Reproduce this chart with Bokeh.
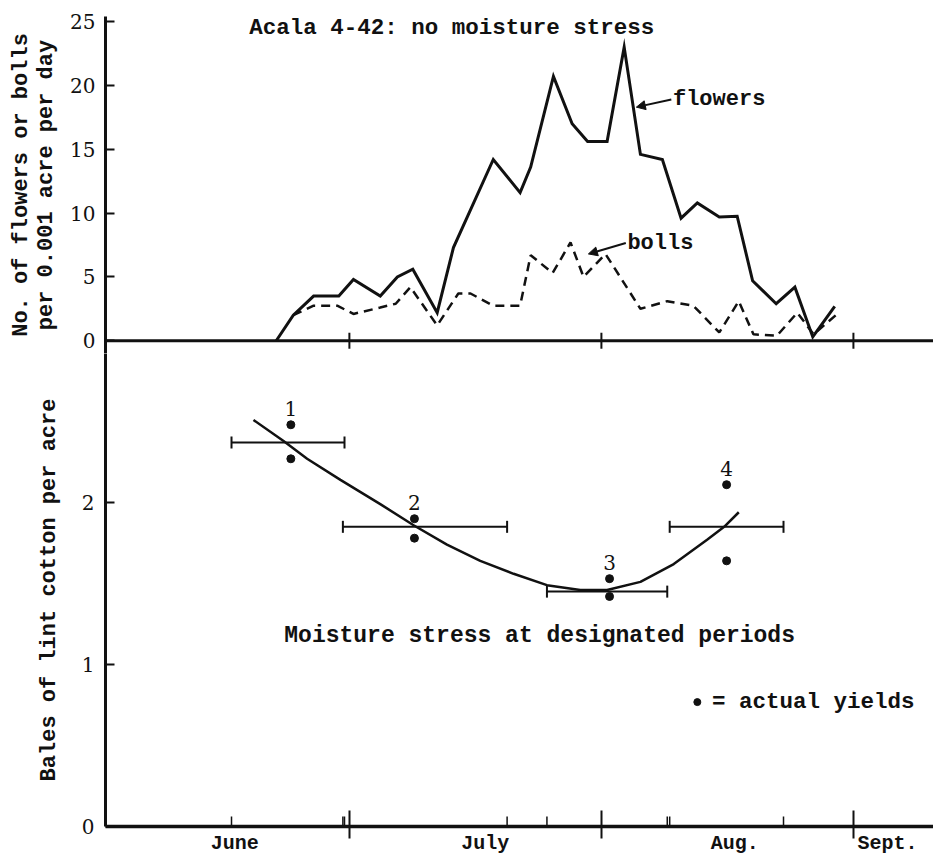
import math
from bokeh.plotting import figure
from bokeh.layouts import column
from bokeh.models import (ColumnDataSource, FixedTicker, Span, Whisker, TeeHead,
                          Arrow, NormalHead, Label)
from bokeh.embed import file_html
from bokeh.resources import INLINE

# ---------------- data (x = days after 31 May; day 0 = June 1) ----------------
flower_days = [21.0, 23.1, 25.6, 28.7, 30.5, 33.8, 35.9, 37.8, 40.8, 42.8, 47.7, 51.0,
               52.3, 55.1, 57.4, 59.3, 61.7, 63.8, 65.8, 68.5, 70.8, 72.8, 75.5, 77.7,
               79.6, 82.5, 84.8, 87.0, 89.7]
flowers = [0.0, 2.0, 3.5, 3.5, 4.8, 3.5, 5.0, 5.6, 2.2, 7.3, 14.2, 11.6,
           13.6, 20.7, 17.0, 15.6, 15.6, 23.0, 14.6, 14.2, 9.6, 10.8, 9.7, 9.75,
           4.7, 2.9, 4.2, 0.3, 2.7]

boll_days = [23.1, 25.6, 28.5, 30.5, 33.8, 35.7, 37.5, 40.8, 43.4, 44.9, 47.7, 51.0,
             52.3, 55.0, 57.2, 58.8, 61.5, 65.8, 69.1, 72.3, 75.5, 77.9, 79.7, 82.6,
             85.1, 87.1, 90.2]
bolls = [2.0, 2.75, 2.75, 2.1, 2.6, 2.9, 4.2, 1.2, 3.7, 3.7, 2.75, 2.75,
         6.7, 5.3, 7.7, 5.0, 6.8, 2.5, 3.1, 2.75, 0.65, 3.1, 0.5, 0.4,
         2.2, 0.5, 2.2]

flower_ticks = [0, 5, 10, 15, 20, 25]

periods = ["1", "2", "3", "4"]
period_start = [15.5, 29.2, 54.3, 69.4]
period_end = [29.4, 49.4, 69.1, 83.4]
period_yield = [2.37, 1.85, 1.45, 1.85]
yield_day = [22.8, 38.0, 62.0, 76.4]
yield_high = [2.48, 1.90, 1.53, 2.11]
yield_low = [2.27, 1.78, 1.42, 1.64]

curve_days = [18.2, 21.9, 24.8, 28.9, 33.8, 37.9, 42.0, 46.1, 50.2, 54.3, 58.4,
              61.7, 65.8, 69.9, 74.0, 76.1, 77.9]
curve_vals = [2.51, 2.38, 2.27, 2.14, 1.99, 1.86, 1.74, 1.64, 1.56, 1.49, 1.46,
              1.46, 1.51, 1.62, 1.77, 1.85, 1.94]

bale_ticks = [0, 1, 2]

month_bounds = [30, 61, 92]
month_label_pos = [15.9, 46.7, 77.4, 96.2]
month_labels = ["June", "July", "Aug.", "Sept."]

MONO = "Liberation Mono"
SERIF = "DejaVu Serif"
BLACK = "#111111"

# ---------------- top panel ----------------
top = figure(width=933, height=353, x_range=(0, 101.85), y_range=(-1.0, 25.4),
             output_backend="svg", toolbar_location=None, x_axis_location=None,
             min_border_left=105, min_border_right=0, min_border_top=16,
             min_border_bottom=0)
top.outline_line_color = None
top.grid.visible = False
ya = top.yaxis[0]
ya.ticker = FixedTicker(ticks=flower_ticks, minor_ticks=[])
ya.axis_line_width = 3
ya.axis_line_color = BLACK
ya.major_tick_in = 9
ya.major_tick_out = 0
ya.major_tick_line_width = 2
ya.major_tick_line_color = BLACK
ya.major_label_standoff = 10
ya.major_label_text_font = SERIF
ya.major_label_text_font_size = "20px"
ya.major_label_text_color = BLACK
ya.axis_label = "No. of flowers or bolls\nper 0.001 acre per day"
ya.axis_label_standoff = 8
ya.axis_label_text_font = MONO
ya.axis_label_text_font_style = "bold"
ya.axis_label_text_font_size = "22px"
ya.axis_label_text_line_height = 1.0
ya.axis_label_text_color = BLACK

top.add_layout(Span(location=0, dimension="width", line_color=BLACK, line_width=3))
top.scatter(month_bounds, [0] * len(month_bounds), marker="dash", angle=math.pi / 2,
            size=16, line_color=BLACK, line_width=2)

top.line(flower_days, flowers, line_color=BLACK, line_width=3, line_join="miter")
top.line(boll_days, bolls, line_color=BLACK, line_width=2.5, line_dash="9 6")

top.add_layout(Label(x=42.6, y=24.5, text="Acala 4-42: no moisture stress",
                     text_align="center", text_baseline="middle", text_font=MONO,
                     text_font_style="bold", text_font_size="22.5px", text_color=BLACK))
top.add_layout(Label(x=69.8, y=18.9, text="flowers", text_align="left",
                     text_baseline="middle", text_font=MONO, text_font_style="bold",
                     text_font_size="22px", text_color=BLACK))
top.add_layout(Arrow(x_start=69.6, y_start=18.9, x_end=65.3, y_end=18.3,
                     line_color=BLACK, line_width=2,
                     end=NormalHead(size=9, fill_color=BLACK, line_color=BLACK)))
top.add_layout(Label(x=64.2, y=7.65, text="bolls", text_align="left",
                     text_baseline="middle", text_font=MONO, text_font_style="bold",
                     text_font_size="22px", text_color=BLACK))
top.add_layout(Arrow(x_start=64.0, y_start=7.65, x_end=59.4, y_end=6.8,
                     line_color=BLACK, line_width=2,
                     end=NormalHead(size=9, fill_color=BLACK, line_color=BLACK)))

# ---------------- bottom panel ----------------
bot = figure(width=933, height=504, x_range=top.x_range, y_range=(0, 2.92),
             output_backend="svg", toolbar_location=None,
             min_border_left=105, min_border_right=0, min_border_top=0,
             min_border_bottom=29)
bot.outline_line_color = None
bot.grid.visible = False

yb = bot.yaxis[0]
yb.ticker = FixedTicker(ticks=bale_ticks, minor_ticks=[])
yb.axis_line_width = 3
yb.axis_line_color = BLACK
yb.major_tick_in = 9
yb.major_tick_out = 0
yb.major_tick_line_width = 2
yb.major_tick_line_color = BLACK
yb.major_label_standoff = 11
yb.major_label_text_font = SERIF
yb.major_label_text_font_size = "20px"
yb.major_label_text_color = BLACK
yb.axis_label = "Bales of lint cotton per acre"
yb.axis_label_standoff = 17
yb.axis_label_text_font = MONO
yb.axis_label_text_font_style = "bold"
yb.axis_label_text_font_size = "22px"
yb.axis_label_text_color = BLACK

xb = bot.xaxis[0]
xb.ticker = FixedTicker(ticks=month_label_pos, minor_ticks=month_bounds)
xb.major_label_overrides = {p: l for p, l in zip(month_label_pos, month_labels)}
xb.major_tick_in = 0
xb.major_tick_out = 0
xb.minor_tick_in = 16
xb.minor_tick_out = 12
xb.minor_tick_line_width = 2
xb.minor_tick_line_color = BLACK
xb.axis_line_width = 3.5
xb.axis_line_color = BLACK
xb.major_label_standoff = -7
xb.major_label_text_font = MONO
xb.major_label_text_font_style = "bold"
xb.major_label_text_font_size = "20px"
xb.major_label_text_color = BLACK

# small upward ticks at the ends of the stress periods
edges = period_start + period_end
bot.scatter(edges, [0] * len(edges), marker="dash", angle=math.pi / 2, size=20,
            line_color=BLACK, line_width=1.5)

src = ColumnDataSource(dict(base=period_yield, lower=period_start, upper=period_end))
bot.add_layout(Whisker(source=src, base="base", lower="lower", upper="upper",
                       dimension="width", line_color=BLACK, line_width=2,
                       lower_head=TeeHead(size=12, line_width=2, line_color=BLACK),
                       upper_head=TeeHead(size=12, line_width=2, line_color=BLACK)))

bot.line(curve_days, curve_vals, line_color=BLACK, line_width=2.5)

bot.scatter(yield_day + yield_day, yield_high + yield_low, size=8,
            fill_color=BLACK, line_color=BLACK)

lab_src = ColumnDataSource(dict(x=yield_day, y=yield_high, t=periods))
bot.text(x="x", y="y", text="t", source=lab_src, text_align="center",
         text_baseline="bottom", y_offset=-9, text_font_size="20px",
         text_color=BLACK, text_font={"value": SERIF})

bot.add_layout(Label(x=53.4, y=1.174, text="Moisture stress at designated periods",
                     text_align="center", text_baseline="middle", text_font=MONO,
                     text_font_style="bold", text_font_size="23px", text_color=BLACK))
bot.scatter([72.8], [0.768], size=7, fill_color=BLACK, line_color=BLACK)
bot.add_layout(Label(x=74.6, y=0.768, text="= actual yields", text_align="left",
                     text_baseline="middle", text_font=MONO, text_font_style="bold",
                     text_font_size="22.5px", text_color=BLACK))

layout = column(top, bot, spacing=0)
open("out.html", "w").write(file_html(layout, INLINE))
